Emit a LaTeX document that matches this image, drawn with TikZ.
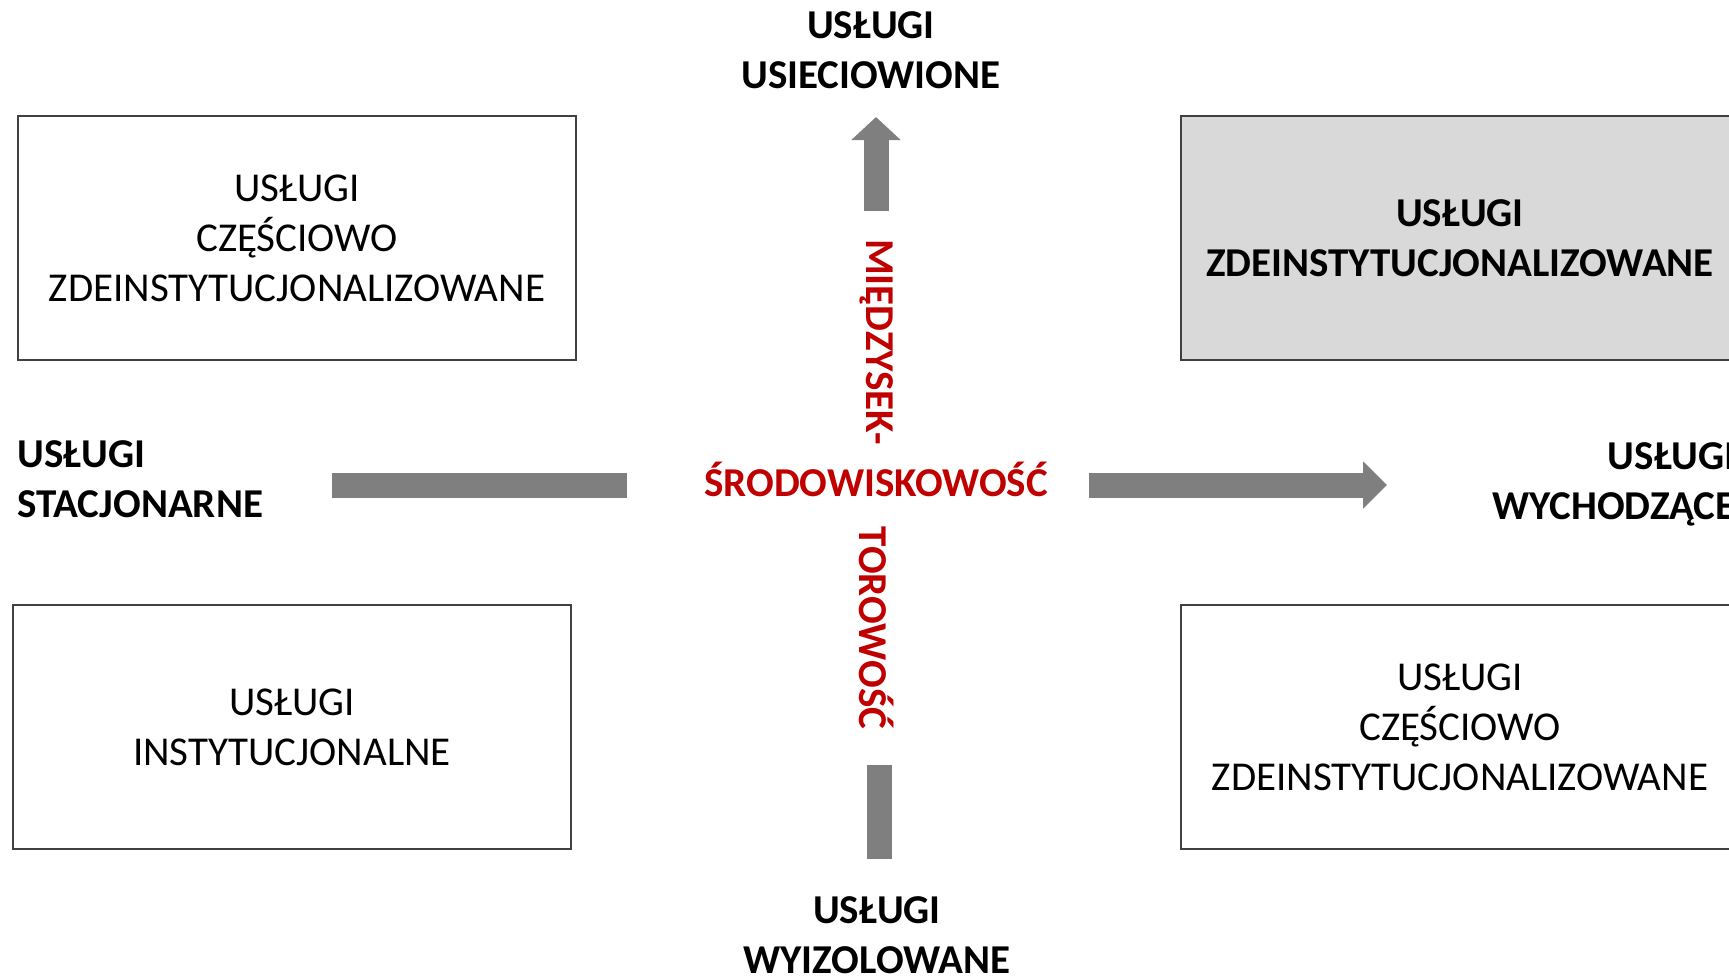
\documentclass[tikz,border=0pt]{standalone}
\usepackage{fontspec}
\setmainfont{Carlito}
\usetikzlibrary{arrows.meta}
\definecolor{arrowgray}{HTML}{7F7F7F}
\definecolor{boxgray}{HTML}{D9D9D9}
\definecolor{axisred}{HTML}{C00000}
\tikzstyle{service box}=[
        draw = black!75,
        line width = 1pt,
        minimum width = 279pt,
        minimum height = 122pt,
        align = center,
        font = \fontsize{20.5}{25}\selectfont
    ]
\tikzstyle{pole label}=[
    font = \fontsize{20.5}{25}\selectfont\bfseries,
    inner sep = 0pt
]

\begin{document}
\begin{tikzpicture}[x=0.5pt, y=-0.5pt,
        block/.style = {draw=arrowgray, line width=12.5pt},
        axis/.style = {text=axisred, font=\fontsize{20.5}{25}\selectfont\bfseries, inner sep=0pt}]
        \path[use as bounding box, clip] (0,0) rectangle (1729,976);

        % quadrants
        \node[service box] (tl) at (297,238) {USŁUGI\\CZĘŚCIOWO\\ZDEINSTYTUCJONALIZOWANE};
        \node[service box] (bl) at (292,727) {USŁUGI\\INSTYTUCJONALNE};
        \node[service box, fill=boxgray, font=\fontsize{20.5}{25}\selectfont\bfseries] (tr) at (1460,238) {USŁUGI\\ZDEINSTYTUCJONALIZOWANE};
        \node[service box] (br) at (1460,727) {USŁUGI\\CZĘŚCIOWO\\ZDEINSTYTUCJONALIZOWANE};

        % ends of the two axes
        \node[pole label, align=center] (up) at (871,50) {USŁUGI\\USIECIOWIONE};
        \node[pole label, align=center] (down) at (877,935) {USŁUGI\\WYIZOLOWANE};
        \node[pole label, align=left, anchor=west] (left) at (17,479) {USŁUGI\\STACJONARNE};
        \node[pole label, align=right, anchor=east] (right) at (1736,484) {USŁUGI\\WYCHODZĄCE};

        % axis names
        \node[axis, anchor=base] (env) at (876,496) {ŚRODOWISKOWOŚĆ};
        \node[axis, rotate=-90] (inter) at (877,342) {MIĘDZYSEK-};
        \node[axis, rotate=-90] (tor) at (877,628) {TOROWOŚĆ};

        % block arrows
        \coordinate (l1) at (332,485);
        \coordinate (l2) at (627,485);
        \coordinate (r1) at (1089,485);
        \coordinate (r2) at (1387,485);
        \coordinate (u1) at (876,211);
        \coordinate (u2) at (876,117);
        \coordinate (d1) at (879,765);
        \coordinate (d2) at (879,859);

        \draw[block] (l1) -- (l2);
        \draw[block, -{Triangle[width=23pt, length=12pt]}] (r1) -- (r2);
        \draw[block, -{Triangle[width=24pt, length=11.5pt]}] (u1) -- (u2);
        \draw[block] (d1) -- (d2);

    \end{tikzpicture}
\end{document}
